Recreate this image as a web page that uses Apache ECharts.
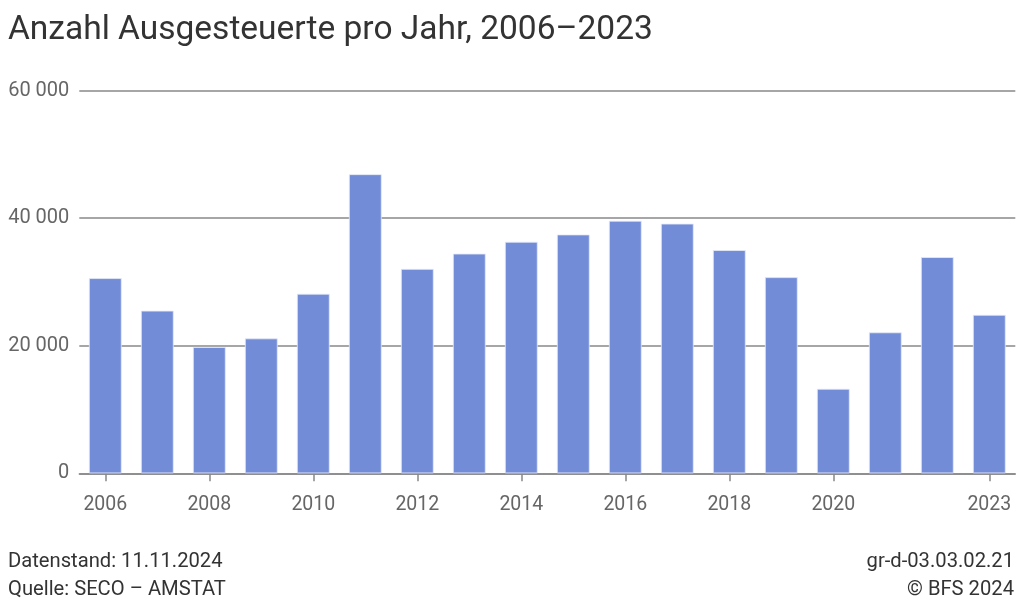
<!DOCTYPE html>
<html>
<head>
<meta charset="utf-8">
<script src="https://cdn.jsdelivr.net/npm/echarts@6/dist/echarts.min.js"></script>
<style>html,body{margin:0;padding:0;background:#fff}#c{width:1024px;height:611px}</style>
</head>
<body>
<div id="c"></div>
<script>
const years = ['2006','2007','2008','2009','2010','2011','2012','2013','2014','2015','2016','2017','2018','2019','2020','2021','2022','2023'];
const values = [30600,25500,19800,21150,28150,46900,32050,34450,36300,37450,39600,39150,35000,30750,13250,22100,33900,24850];
const labeledYears = ['2006','2008','2010','2012','2014','2016','2018','2020','2023'];
const yTicks = [0,20000,40000,60000];

const fmt = v => String(v).replace(/\B(?=(\d{3})+(?!\d))/g, ' ');
const chart = echarts.init(document.getElementById('c'), null, {renderer:'canvas'});
const txt = (s, x, y, size, align, color) => ({
  type:'text', x:x, y:y, silent:true,
  style:{text:s, fill:color, font:'normal ' + size + 'px Roboto', textAlign:align, textVerticalAlign:'middle'}
});
chart.setOption({
  animation:false,
  textStyle:{fontFamily:'Roboto'},
  graphic:[
    txt('Anzahl Ausgesteuerte pro Jahr, 2006–2023', 8, 31, 33.5, 'left', '#333'),
    txt('Datenstand: 11.11.2024', 8, 561.5, 20.2, 'left', '#333'),
    txt('Quelle: SECO – AMSTAT', 8, 589.5, 20.2, 'left', '#333'),
    txt('gr-d-03.03.02.21', 1014, 561.5, 20.2, 'right', '#333'),
    txt('© BFS 2024', 1014, 589.5, 20.2, 'right', '#333')
  ],
  grid:{left:79.3, right:8.7, top:90.7, bottom:137.7, containLabel:false},
  xAxis:{
    type:'category', data:years,
    axisLine:{show:true,lineStyle:{color:'#888',width:1.5}},
    axisTick:{show:true,alignWithLabel:true,length:8,lineStyle:{color:'#888',width:1.5},
      interval:(i,v)=>labeledYears.includes(v)},
    axisLabel:{interval:(i,v)=>labeledYears.includes(v), color:'#666', fontSize:19.5, margin:21.5, fontFamily:'Roboto'}
  },
  yAxis:{
    type:'value', min:0, max:60000, interval:20000,
    axisLine:{show:false}, axisTick:{show:false},
    splitLine:{show:true,lineStyle:{color:'#888',width:1.5}},
    axisLabel:{color:'#666', fontSize:20, margin:10, fontFamily:'Roboto', formatter:v=>yTicks.includes(v)?fmt(v):''}
  },
  series:[{
    type:'bar', data:values, barCategoryGap:'37%',
    itemStyle:{color:'#738cd7', borderColor:'#e6ebf8', borderWidth:0.8}
  }]
});
</script>
</body>
</html>
